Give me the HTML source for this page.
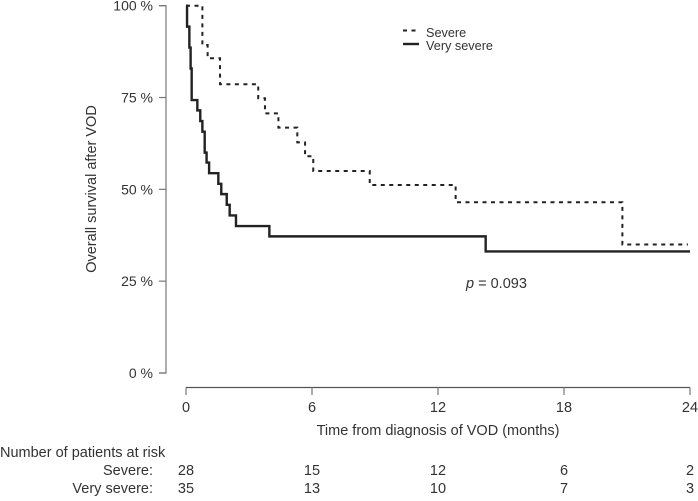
<!DOCTYPE html>
<html><head><meta charset="utf-8"><title>Survival chart</title>
<style>
html,body{margin:0;padding:0;background:#fff}
svg{display:block;font-family:"Liberation Sans",sans-serif;fill:#333}
text{font-size:14.5px}
</style></head>
<body>
<svg id="chart" width="698" height="501" viewBox="0 0 698 501"></svg>
<script>
const severeTimes=[0,0.78,1.03,1.62,3.44,3.76,4.4,5.3,5.67,6.06,8.75,12.84,20.78,23.9];
const severeSurvival=[100,89.3,85.7,78.6,74.8,70.7,66.8,62.8,59,55,51.2,46.5,35,35];
const verySevereTimes=[0,0.05,0.16,0.22,0.27,0.54,0.68,0.78,0.89,0.98,1.1,1.54,1.68,1.94,2.08,2.38,3.97,14.27,24];
const verySevereSurvival=[100,94.3,88.6,82.9,74.3,71.5,68.6,65.7,60,57.3,54.4,51.5,48.7,45.8,42.9,40,37.2,33.1,33.1];
const xTicks=[0,6,12,18,24];
const yTicks=[0,25,50,75,100];
const riskSevere=[28,15,12,6,2];
const riskVerySevere=[35,13,10,7,3];
const pValue="0.093";

const NS='http://www.w3.org/2000/svg';
const svg=document.getElementById('chart');
const xs=t=>186+t*21;
const ys=v=>373-v*3.673;
function mk(tag,attrs,txt){
  const e=document.createElementNS(NS,tag);
  for(const k in attrs)e.setAttribute(k,attrs[k]);
  if(txt!==undefined)e.textContent=txt;
  svg.appendChild(e);
  return e;
}
function stepPath(ts,vs){
  let d='M'+xs(ts[0])+' '+ys(vs[0]);
  for(let i=1;i<ts.length;i++){
    d+=' H'+xs(ts[i])+' V'+ys(vs[i]);
  }
  return d;
}
const ax='#555';
// Y axis
let yl=mk('path',{d:'M159 '+ys(100)+' H166 V'+ys(0)+' H159',fill:'none',stroke:'#777','stroke-width':1.2});


yTicks.forEach(v=>{
  const tk=mk('line',{x1:159,x2:166,y1:ys(v),y2:ys(v),stroke:'#777','stroke-width':1.2});
  
  
  const lb=mk('text',{x:153,y:ys(v)+5,'text-anchor':'end',style:'font-size:14px'},v+' %');
  
  
});
// X axis
let xl=mk('line',{x1:xs(0),x2:xs(24),y1:387.5,y2:387.5,stroke:ax,'stroke-width':1.2});


xTicks.forEach((t,i)=>{
  const tk=mk('line',{x1:xs(t),x2:xs(t),y1:387.5,y2:395,stroke:'#777','stroke-width':1.2});
  
  
  const lb=mk('text',{x:xs(t),y:412,'text-anchor':'middle'},t);
  
  
  const a=mk('text',{x:xs(t),y:475,'text-anchor':'middle'},riskSevere[i]);
  
  
  const b=mk('text',{x:xs(t),y:493,'text-anchor':'middle'},riskVerySevere[i]);
  
  
});
// Titles
let xt=mk('text',{x:438,y:435,'text-anchor':'middle'},'Time from diagnosis of VOD (months)');


let yt=mk('text',{x:0,y:0,'text-anchor':'middle',transform:'translate(96 189) rotate(-90)'},'Overall survival after VOD');


// Risk table labels
let r0=mk('text',{x:0,y:457},'Number of patients at risk');


let r1=mk('text',{x:153,y:475,'text-anchor':'end'},'Severe:');


let r2=mk('text',{x:153,y:493,'text-anchor':'end'},'Very severe:');


// Series
let s1=mk('path',{d:stepPath(severeTimes,severeSurvival),fill:'none',stroke:'#222','stroke-width':2,'stroke-dasharray':'4 4.5','stroke-linejoin':'miter'});


let s2=mk('path',{d:stepPath(verySevereTimes,verySevereSurvival),fill:'none',stroke:'#222','stroke-width':2.4,'stroke-linejoin':'miter'});


// Legend
let l1=mk('line',{x1:403,x2:416,y1:30.5,y2:30.5,stroke:'#222','stroke-width':2,'stroke-dasharray':'4 4.5'});


let l2=mk('line',{x1:403,x2:419,y1:44,y2:44,stroke:'#222','stroke-width':2.4});


let t1=mk('text',{x:426,y:37,style:'font-size:12.7px'},'Severe');


let t2=mk('text',{x:426,y:50,style:'font-size:12.7px'},'Very severe');


// p value
let p=mk('text',{x:466,y:288});


const pi=document.createElementNS(NS,'tspan');
pi.setAttribute('font-style','italic');
pi.textContent='p';
p.appendChild(pi);
p.appendChild(document.createTextNode(' = '+pValue));
</script>
</body></html>
